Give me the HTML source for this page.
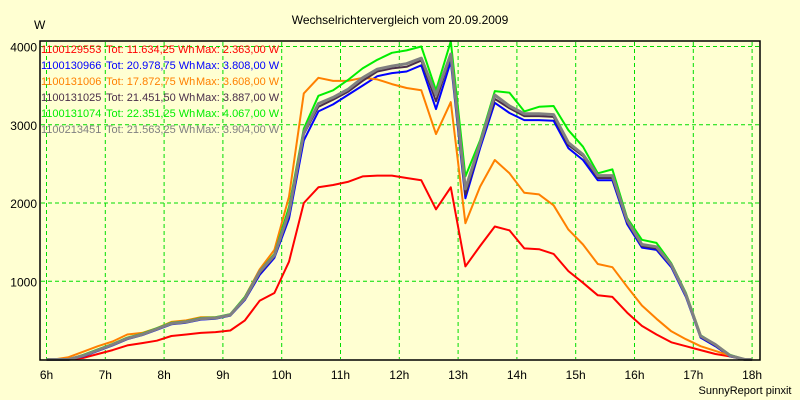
<!DOCTYPE html>
<html><head><meta charset="utf-8">
<style>
html,body{margin:0;padding:0;background:#ffffd2;}
svg{display:block;font-family:"Liberation Sans",Arial,sans-serif;}
</style></head>
<body>
<svg id="chart" width="800" height="400" viewBox="0 0 800 400">
<rect x="0" y="0" width="800" height="400" fill="#ffffd2"/>
<text x="400" y="24" font-size="12" text-anchor="middle" fill="#000">Wechselrichtervergleich vom 20.09.2009</text>
<text x="34" y="29" font-size="12" fill="#000">W</text>
<text x="745" y="394" font-size="11" text-anchor="middle" fill="#000">SunnyReport pinxit</text>
<g id="grid"></g>
<g id="axes"></g>
<g id="series"></g>
<g id="legend"></g>
<rect x="40" y="41" width="720" height="319" fill="none" stroke="#000" stroke-width="1.5"/>
</svg>
<script>
const hourTicks = ["6h","7h","8h","9h","10h","11h","12h","13h","14h","15h","16h","17h","18h"];
const yTicks = [1000, 2000, 3000, 4000];
const seriesNames = ["1100129553","1100130966","1100131006","1100131025","1100131074","1100213451"];
const seriesTotals = ["Tot: 11.634,25 Wh","Tot: 20.978,75 Wh","Tot: 17.872,75 Wh","Tot: 21.451,50 Wh","Tot: 22.351,25 Wh","Tot: 21.563,25 Wh"];
const seriesMax = ["Max: 2.363,00 W","Max: 3.808,00 W","Max: 3.608,00 W","Max: 3.887,00 W","Max: 4.067,00 W","Max: 3.904,00 W"];
const redVals = [0,0,20,70,120,180,210,240,300,320,340,350,370,500,750,850,1250,2000,2200,2230,2270,2340,2350,2350,2320,2290,1920,2200,1190,1450,1700,1650,1420,1410,1350,1130,980,820,800,600,430,320,220,170,120,70,40,0];
const blueVals = [0,0,40,110,180,260,310,380,450,470,510,520,560,760,1080,1300,1800,2800,3170,3260,3380,3500,3620,3660,3680,3760,3200,3808,2060,2700,3280,3150,3060,3060,3050,2700,2550,2290,2290,1730,1430,1400,1180,800,280,170,40,0];
const orangeVals = [0,30,100,170,230,320,340,400,480,500,540,540,570,800,1150,1400,2080,3400,3600,3560,3560,3600,3580,3520,3470,3440,2880,3290,1740,2210,2550,2380,2130,2110,1970,1660,1470,1220,1180,930,690,520,360,260,170,110,50,0];
const darkVals = [0,0,50,120,190,270,320,390,460,480,520,530,570,770,1100,1320,1850,2880,3230,3320,3420,3560,3680,3720,3740,3820,3300,3887,2110,2740,3330,3210,3110,3110,3100,2740,2600,2320,2320,1760,1450,1420,1200,820,290,180,50,0];
const greenVals = [0,0,60,130,200,280,330,400,470,490,530,540,580,800,1130,1350,1950,2950,3370,3440,3570,3720,3830,3920,3950,4000,3440,4067,2340,2800,3430,3410,3170,3230,3240,2930,2720,2380,2430,1810,1530,1490,1230,850,310,190,60,0];
const grayVals = [0,0,50,120,190,270,320,390,460,480,520,530,570,780,1120,1330,1880,2900,3270,3350,3450,3600,3710,3750,3780,3850,3380,3904,2180,2760,3380,3240,3140,3140,3130,2770,2620,2350,2350,1780,1470,1440,1210,830,300,190,50,0];

const NS = "http://www.w3.org/2000/svg";
const X0 = 46.5, HOUR = 58.8, Y0 = 359.5, YSCALE = 78.25 / 1000;
function xHour(h){ return X0 + h * HOUR; }
function xIdx(i){ return xHour((i + 0.5) / 4); }
function yVal(v){ return Y0 - v * YSCALE; }
function mk(tag, attrs, parent){ const e = document.createElementNS(NS, tag); for (const k in attrs) e.setAttribute(k, attrs[k]); parent.appendChild(e); return e; }

const grid = document.getElementById('grid');
const axes = document.getElementById('axes');
hourTicks.forEach((t, i) => {
  const x = xHour(i);
  const gl = mk('line', {x1:x, y1:42, x2:x, y2:359, stroke:'#00dd00', 'stroke-width':1, 'stroke-dasharray':'4,3'}, grid);
  
  
  const tx = mk('text', {x:x, y:379, 'font-size':12, 'text-anchor':'middle', fill:'#000'}, axes);
  tx.textContent = t;
  
  
});
yTicks.forEach(v => {
  const y = yVal(v);
  const gl = mk('line', {x1:41, y1:y, x2:759, y2:y, stroke:'#00dd00', 'stroke-width':1, 'stroke-dasharray':'4,3'}, grid);
  
  
  const tx = mk('text', {x:37, y:y + 5, 'font-size':12, 'text-anchor':'end', fill:'#000'}, axes);
  tx.textContent = String(v);
  
  
});

const seriesData = [redVals, blueVals, orangeVals, darkVals, greenVals, grayVals];
const seriesColors = ['#ff0000','#0000ff','#ff8000','#4a2e4a','#00ee00','#808080'];
const seriesWidths = [2,2,2,2,2,3];
const sg = document.getElementById('series');
seriesData.forEach((vals, s) => {
  let d = 'M' + xHour(0) + ',' + yVal(0);
  vals.forEach((v, i) => { d += ' L' + xIdx(i).toFixed(1) + ',' + yVal(v).toFixed(1); });
  d += ' L' + xHour(12) + ',' + yVal(0);
  const p = mk('path', {d:d, fill:'none', stroke:seriesColors[s], 'stroke-width':seriesWidths[s], 'stroke-linejoin':'round'}, sg);
  
  
});

const lg = document.getElementById('legend');
seriesNames.forEach((n, s) => {
  const y = 53 + s * 16;
  const t = mk('text', {x:41, y:y, 'font-size':11, fill:seriesColors[s]}, lg);
  
  
  const a = mk('tspan', {x:41}, t); a.textContent = n;
  const b = mk('tspan', {x:106}, t); b.textContent = seriesTotals[s];
  const c = mk('tspan', {x:196}, t); c.textContent = seriesMax[s];
});
</script>
</body></html>
